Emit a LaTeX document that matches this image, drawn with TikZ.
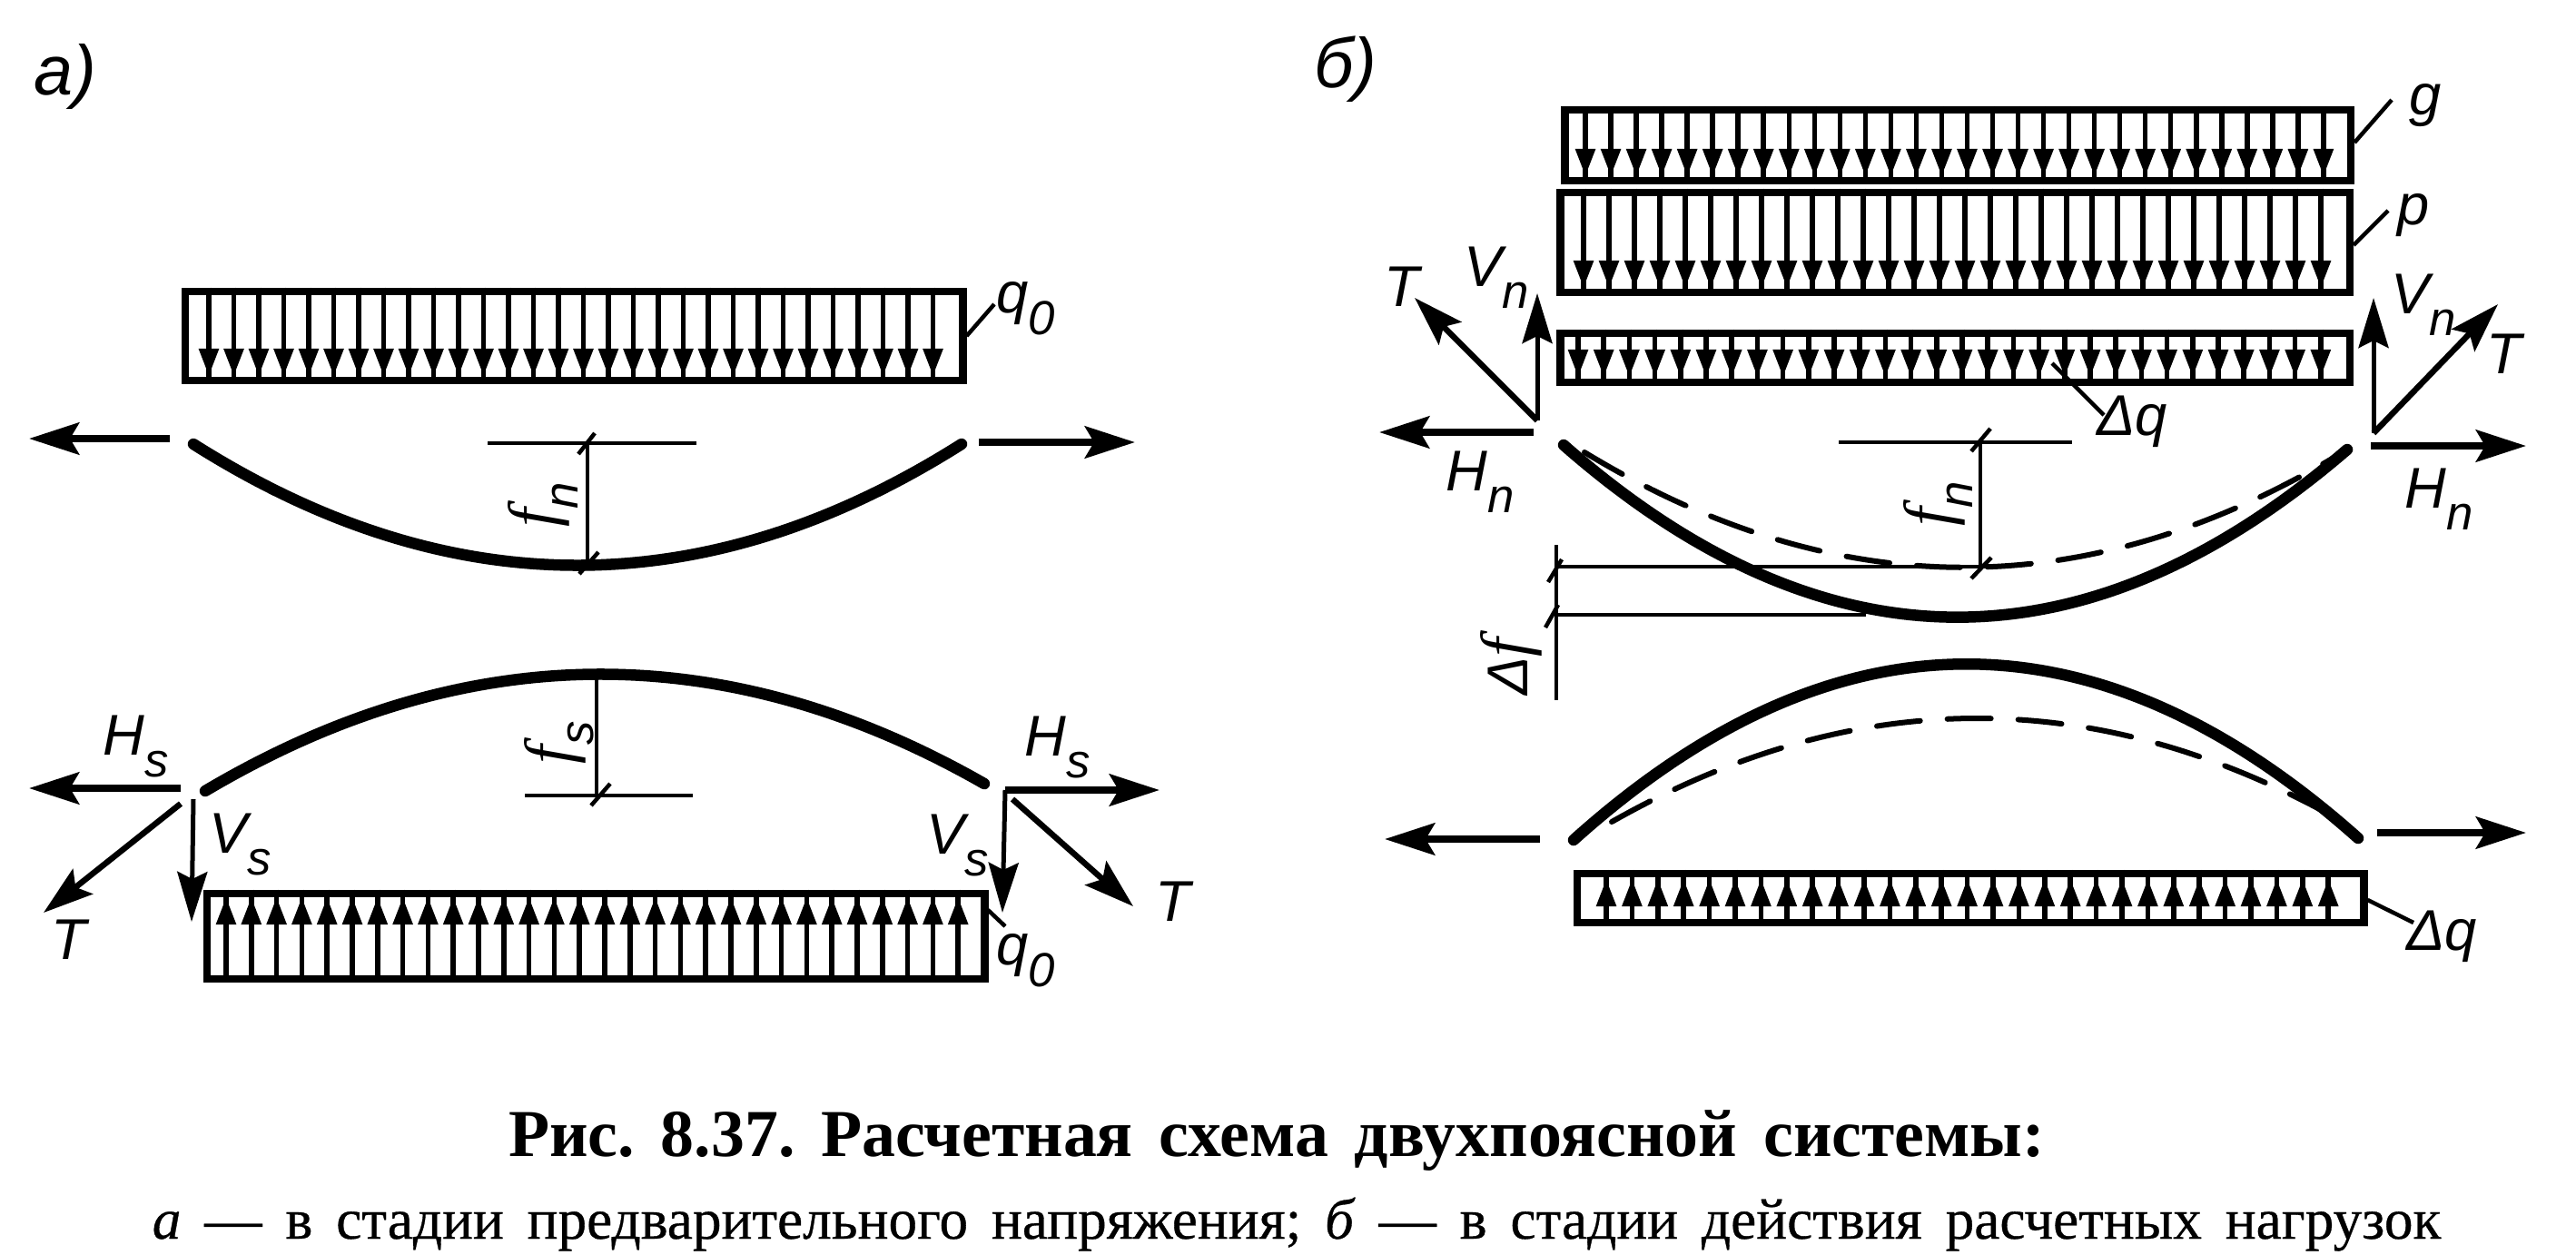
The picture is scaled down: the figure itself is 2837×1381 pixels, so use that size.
\documentclass[tikz,border=0pt]{standalone}
\usepackage{fontspec}
\setmainfont{Liberation Serif}
\newfontfamily\handfont{Liberation Sans}
\newfontfamily\capfont[FakeBold=0.5]{Liberation Serif}
\usetikzlibrary{arrows.meta, calc}
\newcommand{\lsub}[1]{\raisebox{-0.38em}{\fontsize{15}{15}\selectfont #1}}
\newcommand{\ff}{{\fontspec{Liberation Serif}\fontsize{21}{21}\selectfont\itshape f}}
% boxname, first x, step, last index, y of head base, y of head tip
\newcommand{\loadrow}[6]{%
	\foreach \k [evaluate=\k as \xk using #2+\k*#3] in {0,...,#4} {
		\path [hatch] (#1.north -| \xk,0) to (#1.south -| \xk,0);
		\path [hatchhead] (\xk,#5) to (\xk,#6);
	}
}
\tikzstyle{loadbox} = [rectangle, draw, line width=0.085cm, inner sep=0pt]
\tikzstyle{hatch} = [draw, line width=0.055cm]
\tikzstyle{hatchhead} = [draw, line width=0.055cm, -{Triangle[length=0.3cm, width=0.21cm]}, shorten >=-0.02cm]
\tikzstyle{cable} = [draw, line width=0.125cm, line cap=round]
\tikzstyle{sagline} = [draw, line width=0.06cm, dash pattern=on 0.48cm off 0.3cm, line cap=round]
\tikzstyle{dim} = [draw, line width=0.045cm]
\tikzstyle{lead} = [draw, line width=0.045cm]
\tikzstyle{force} = [draw, line width=0.08cm, -{Stealth[length=0.55cm, width=0.35cm, inset=0.1cm]}]
\tikzstyle{slant} = [force, line width=0.065cm]
\tikzstyle{vec} = [draw, line width=0.05cm, -{Stealth[length=0.55cm, width=0.33cm, inset=0.08cm]}]
\tikzstyle{txt} = [inner sep=0pt, font=\handfont\itshape\fontsize{18}{18}\selectfont]
\tikzstyle{bigtxt} = [inner sep=0pt, font=\handfont\itshape\fontsize{22}{22}\selectfont]
\tikzstyle{captext} = [inner sep=0pt, anchor=base]

\begin{document}
\begin{tikzpicture}[x=0.01cm, y=-0.01cm]
	\useasboundingbox (0,0) rectangle (2837,1381);
	
	\node [bigtxt] (lbl_a) at (72,84) {а)};
	\node [bigtxt] (lbl_b) at (1482,76) {б)};
	
	% part a, top
	\node [loadbox, minimum width=8.56cm, minimum height=0.98cm] (box_q_top) at (632,370) {};
	\loadrow{box_q_top}{230}{27.5}{29}{382}{412}
	\node [txt] (q_top) at (1130,340) {q\lsub{0}};
	\coordinate (q_top_l) at (1095,335);
	\path [lead] (box_q_top.east |- 0,370) to (q_top_l);
	
	\coordinate (n_l) at (213,489);
	\coordinate (n_r) at (1059,489);
	\path [cable] (n_l) .. controls (494,667) and (778,667) .. (n_r);
	\coordinate (n_ltail) at (187,483);
	\coordinate (n_ltip) at (32,483);
	\coordinate (n_rtail) at (1078,487);
	\coordinate (n_rtip) at (1250,487);
	\path [force] (n_ltail) to (n_ltip);
	\path [force] (n_rtail) to (n_rtip);
	
	\coordinate (fn_a) at (537,488);
	\coordinate (fn_b) at (767,488);
	\coordinate (fn_t) at (647,488);
	\coordinate (fn_d) at (647,620);
	\path [dim] (fn_a) to (fn_b);
	\path [dim] (fn_t) to (fn_d);
	\path [dim] (655,477) to (637,500);
	\path [dim] (659,608) to (638,632);
	\node [txt, rotate=90] (fn) at (598,556) {\ff\lsub{n}};
	
	% part a, bottom
	\coordinate (s_l) at (226,871);
	\coordinate (s_r) at (1084,863);
	\path [cable] (s_l) .. controls (511,702) and (799,700) .. (s_r);
	
	\coordinate (fs_t) at (657,745);
	\coordinate (fs_d) at (657,876);
	\coordinate (fs_a) at (578,876);
	\coordinate (fs_b) at (763,876);
	\path [dim] (fs_t) to (fs_d);
	\path [dim] (fs_a) to (fs_b);
	\path [dim] (672,863) to (651,887);
	\node [txt, rotate=90] (fs) at (616,818) {\ff\lsub{s}};
	
	\coordinate (hs_ltail) at (199,868);
	\coordinate (hs_ltip) at (32,868);
	\path [force] (hs_ltail) to (hs_ltip);
	\coordinate (vs_ltail) at (213,880);
	\coordinate (vs_ltip) at (211,1015);
	\path [vec] (vs_ltail) to (vs_ltip);
	\coordinate (t_ltail) at (199,885);
	\coordinate (t_ltip) at (48,1005);
	\path [slant] (t_ltail) to (t_ltip);
	
	\coordinate (k_r) at (1107,870);
	\coordinate (hs_rtip) at (1277,870);
	\coordinate (vs_rtip) at (1104,1005);
	\coordinate (t_rtail) at (1115,880);
	\coordinate (t_rtip) at (1248,998);
	\path [force] (k_r) to (hs_rtip);
	\path [vec] (k_r) to (vs_rtip);
	\path [slant] (t_rtail) to (t_rtip);
	
	\node [txt] (hs_l) at (150,822) {H\lsub{s}};
	\node [txt] (hs_r) at (1165,823) {H\lsub{s}};
	\node [txt] (vs_l) at (265,930) {V\lsub{s}};
	\node [txt] (vs_r) at (1055,931) {V\lsub{s}};
	\node [txt] (t_l) at (76,1035) {T};
	\node [txt] (t_r) at (1292,993) {T};
	
	\node [loadbox, minimum width=8.56cm, minimum height=0.94cm] (box_q_bot) at (656,1031) {};
	\loadrow{box_q_bot}{249}{27.8}{29}{1024}{990}
	\node [txt] (q_bot) at (1130,1058) {q\lsub{0}};
	\coordinate (q_bot_l) at (1107,1020);
	\path [lead] (1088,1002) to (q_bot_l);
	
	% part b, loads
	\node [loadbox, minimum width=8.65cm, minimum height=0.78cm] (box_g) at (2156,160) {};
	\loadrow{box_g}{1746}{28.03}{29}{157}{192}
	\node [loadbox, minimum width=8.69cm, minimum height=1.10cm] (box_p) at (2153,267) {};
	\loadrow{box_p}{1744}{28}{29}{282}{315}
	\node [loadbox, minimum width=8.69cm, minimum height=0.54cm] (box_dq) at (2153,394) {};
	\loadrow{box_dq}{1738}{28.2}{29}{382}{413}
	\node [loadbox, minimum width=8.66cm, minimum height=0.54cm] (box_dq_bot) at (2170,989) {};
	\loadrow{box_dq_bot}{1769}{28.4}{28}{1003}{970}
	
	\node [txt] (g) at (2671,116) {g};
	\node [txt] (p) at (2658,237) {p};
	\node [txt] (dq) at (2348,464) {Δq};
	\node [txt] (dq_bot) at (2689,1031) {Δq};
	\coordinate (g_l) at (2634,110);
	\coordinate (p_l) at (2630,232);
	\coordinate (dq_l) at (2317,457);
	\coordinate (dq_bot_l) at (2658,1016);
	\path [lead] (box_g.east |- 0,157) to (g_l);
	\path [lead] (box_p.east |- 0,270) to (p_l);
	\path [lead] (2260,400) to (dq_l);
	\path [lead] (box_dq_bot.east |- 0,991) to (dq_bot_l);
	
	% part b, top cable
	\coordinate (bn_l) at (1722,490);
	\coordinate (bn_r) at (2585,495);
	\path [cable] (bn_l) .. controls (2009,742) and (2298,742) .. (bn_r);
	\coordinate (bd_l) at (1745,498);
	\coordinate (bd_r) at (2580,498);
	\path [sagline] (bd_l) .. controls (2023,667) and (2302,667) .. (bd_r);
	
	\coordinate (c_l) at (1693,463);
	\coordinate (vn_ltip) at (1693,323);
	\coordinate (tn_ltip) at (1558,328);
	\coordinate (hn_ltail) at (1689,476);
	\coordinate (hn_ltip) at (1519,476);
	\path [vec] (c_l) to (vn_ltip);
	\path [slant] (c_l) to (tn_ltip);
	\path [force] (hn_ltail) to (hn_ltip);
	
	\coordinate (c_r) at (2614,477);
	\coordinate (vn_rtip) at (2614,328);
	\coordinate (tn_rtip) at (2751,335);
	\coordinate (hn_rtail) at (2611,491);
	\coordinate (hn_rtip) at (2782,491);
	\path [vec] (c_r) to (vn_rtip);
	\path [slant] (c_r) to (tn_rtip);
	\path [force] (hn_rtail) to (hn_rtip);
	
	\node [txt] (tn_l) at (1544,316) {T};
	\node [txt] (vn_l) at (1648,306) {V\lsub{n}};
	\node [txt] (vn_r) at (2669,336) {V\lsub{n}};
	\node [txt] (tn_r) at (2758,390) {T};
	\node [txt] (hn_l) at (1630,531) {H\lsub{n}};
	\node [txt] (hn_r) at (2686,550) {H\lsub{n}};
	
	\coordinate (bf_a) at (2025,487);
	\coordinate (bf_b) at (2282,487);
	\coordinate (bf_t) at (2181,487);
	\coordinate (bf_d) at (2181,624);
	\coordinate (df_t) at (1714,600);
	\coordinate (df_d) at (1714,771);
	\coordinate (df_1) at (1714,624);
	\coordinate (df_2) at (1714,677);
	\coordinate (df_1e) at (2198,624);
	\coordinate (df_2e) at (2055,677);
	\path [dim] (bf_a) to (bf_b);
	\path [dim] (bf_t) to (bf_d);
	\path [dim] (df_t) to (df_d);
	\path [dim] (df_1) to (df_1e);
	\path [dim] (df_2) to (df_2e);
	\path [dim] (2192,472) to (2171,497);
	\path [dim] (2193,614) to (2171,637);
	\path [dim] (1720,616) to (1705,641);
	\path [dim] (1716,666) to (1702,691);
	\node [txt, rotate=90] (bfn) at (2134,555) {\ff\lsub{n}};
	\node [txt, rotate=90] (df) at (1664,734) {Δ\ff};
	
	% part b, bottom cable
	\coordinate (bs_l) at (1733,925);
	\coordinate (bs_r) at (2597,923);
	\path [cable] (bs_l) .. controls (2020,667) and (2310,667) .. (bs_r);
	\coordinate (bsd_l) at (1775,905);
	\coordinate (bsd_r) at (2580,905);
	\path [sagline] (bsd_l) .. controls (2043,753) and (2312,753) .. (bsd_r);
	\coordinate (bs_ltail) at (1696,924);
	\coordinate (bs_ltip) at (1525,924);
	\coordinate (bs_rtail) at (2618,917);
	\coordinate (bs_rtip) at (2782,917);
	\path [force] (bs_ltail) to (bs_ltip);
	\path [force] (bs_rtail) to (bs_rtip);
	
	% caption
	\node [captext, font=\frenchspacing\bfseries\fontsize{21}{21}\selectfont] (cap_1) at (1406,1273) {\makebox[16.91cm][s]{Рис. 8.37. Расчетная схема двухпоясной системы:}};
	\node [captext, font=\frenchspacing\capfont\fontsize{18}{18}\selectfont] (cap_2) at (1428,1364) {\makebox[25.19cm][s]{\textit{а}~— в стадии предварительного напряжения; \textit{б}~— в стадии действия расчетных нагрузок}};
\end{tikzpicture}
\end{document}
